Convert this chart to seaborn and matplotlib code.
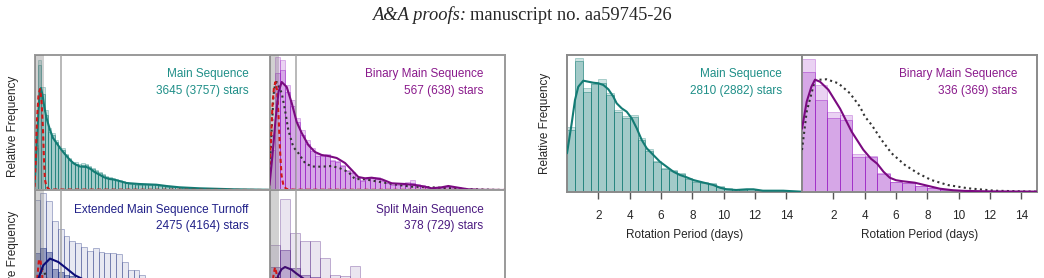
import numpy as np
import pandas as pd
import matplotlib
matplotlib.use("Agg")
import matplotlib.pyplot as plt
import seaborn as sns
from matplotlib.colors import to_rgba

sns.set_style("white")
plt.rcParams["font.family"] = ["Liberation Sans", "DejaVu Sans"]

# ---------------- left block (2x2, bottom row cut by the page) ----------------
# x in arbitrary period units, y in relative frequency (arbitrary scale)
ms_bin = 0.335
ms_all = [45, 130, 103, 80, 62, 57, 50, 44, 42, 36, 32, 28, 28, 26, 27, 26, 24, 22, 20, 18,
          16, 14, 13, 12, 11, 10, 9, 8, 7, 6.5, 6, 6, 6, 6, 5.5, 6, 5.5, 5, 4.5, 4,
          3.5, 3, 3, 2.5, 2.5, 2, 2, 1.5, 2, 1.5, 1.5, 1, 1.5, 1, 1, 1, 0.8, 0.8, 1, 1,
          0.5, 0.5, 0.5, 0.5, 0.5, 0.5, 0.5, 0.5, 0.5, 0.5]
ms_sel = [42, 125, 96, 75, 58, 55, 48, 42, 40, 35, 31, 27, 26, 24, 25, 25, 23, 21, 19, 17,
          15, 13, 12, 11, 10, 9, 8.5, 7.5, 6.5, 6, 5.5, 5.5, 5.5, 5.5, 5, 5.5, 5, 4.5, 4, 3.5,
          3, 2.8, 2.6, 2.2, 2.2, 1.8, 1.8, 1.3, 1.7, 1.3, 1.3, 0.9, 1.2, 0.8, 0.8, 0.8, 0.7, 0.6, 0.8, 0.8,
          0.4, 0.4, 0.4, 0.4, 0.4, 0.4, 0.3, 0.3, 0.3, 0.3]
ms_fit_x = [0, 0.2, 0.4, 0.55, 0.65, 0.8, 1.0, 1.2, 1.55, 1.85, 2.2, 2.7, 3.2, 3.55, 4.0, 4.55,
            5.2, 5.6, 6.0, 6.55, 7.0, 7.5, 7.9, 8.3, 9.2, 10.5, 12.2, 13.2, 14.5, 16.5, 20.0, 23.5]
ms_fit_y = [5, 40, 80, 98, 102, 95, 82, 72, 60, 52, 47, 40, 34, 30, 26, 23.5,
            23, 21, 18, 15, 12.5, 11, 10.5, 9.5, 7, 6, 5.3, 4, 2.7, 1.7, 0.7, 0.2]
ms_ref_x = [0, 0.1, 0.25, 0.4, 0.55, 0.7, 0.85, 0.95, 1.05, 1.2, 1.5, 23.5]
ms_ref_y = [3, 25, 70, 95, 101, 90, 60, 30, 10, 3, 0.5, 0]

bms_bin = 0.5
bms_all = [55, 133, 130, 105, 90, 72, 60, 50, 42, 36, 35, 36, 30, 29, 25, 20, 18, 13, 10, 11.7,
           12.7, 12.7, 10, 7.3, 6, 6, 6, 8.3, 10, 6, 5, 3.5, 2, 2.5, 3, 4, 3, 2, 1.5, 1,
           0.7, 0.5, 0.3, 0.3, 0.3, 0.3, 0.3]
bms_sel = [40, 117, 120, 98, 84, 68, 55, 46, 39, 34, 34, 35, 29, 28, 24, 19, 17, 12, 9, 11,
           12, 11.5, 9, 7, 5.5, 5.5, 5.5, 6.5, 7, 5, 4, 3, 1.5, 2, 2.5, 3.5, 2.5, 1.5, 1, 0.8,
           0.5, 0.3, 0.2, 0.2, 0.2, 0.2, 0.2]
bms_fit_x = [0, 0.3, 0.6, 0.9, 1.22, 1.72, 2.22, 2.72, 3.22, 3.88, 4.55, 5.22, 5.88, 6.72, 7.55,
             8.22, 8.88, 9.55, 10.22, 11.22, 12.22, 13.55, 14.55, 15.55, 16.22, 17.22, 17.88,
             18.88, 19.88, 21.22, 23.5]
bms_fit_y = [5, 35, 70, 98, 108, 103, 87, 68, 57, 45, 38, 35, 34, 32, 27,
             20, 13, 11.7, 12.3, 10.7, 6.7, 6, 5, 3.3, 1.7, 2.7, 4,
             2.3, 0.7, 0.2, 0]
bms_ref_x = [0, 0.15, 0.3, 0.45, 0.6, 0.75, 0.9, 1.05, 1.2, 1.4, 1.7, 2.5, 23.5]
bms_ref_y = [25, 50, 85, 103, 108, 100, 75, 40, 15, 4, 1, 0.3, 0]
bms_field_x = [0, 0.2, 0.4, 0.55, 0.72, 1.22, 1.55, 1.88, 2.38, 2.88, 3.55, 4.22, 5.22, 6.22,
               7.05, 7.88, 8.55, 9.55, 10.88, 11.88, 12.88, 14.22, 16.2, 18.2, 20.2, 23.5]
bms_field_y = [15, 55, 95, 105, 108, 97, 80, 60, 43, 37, 27, 23.5, 23.3, 24,
               21.7, 18, 11, 10.7, 8.3, 6.7, 5, 3.3, 2.7, 1.7, 0.7, 0]

emsto_bin = 0.583
emsto_all = [125, 132, 124, 104, 96, 89, 84, 82, 78, 74, 77, 73, 72, 72, 71, 63, 55, 55, 50, 44,
             40, 36, 33, 30, 27, 24, 21, 19, 17, 15, 13, 11, 10, 9, 8, 7, 6, 5, 4, 3, 2]
emsto_sel = [72, 77, 73, 56, 53, 50, 49, 47, 45, 43, 40, 37, 35, 32, 30, 27, 24, 22, 20, 18,
             16, 14, 12, 11, 10, 9, 8, 7, 6, 5, 4.5, 4, 3.5, 3, 2.5, 2, 1.5, 1.2, 1, 0.8, 0.5]
emsto_fit_x = [0, 0.2, 0.38, 0.88, 1.55, 2.38, 3.22, 4.05, 4.72, 5.5, 6.5, 8, 10, 12, 14, 16, 18, 20, 23.5]
emsto_fit_y = [10, 30, 46.7, 60, 66.7, 63.3, 56.7, 50, 46.7, 42, 38, 32, 25, 18, 12, 8, 5, 3, 1]
emsto_ref_x = [0, 0.15, 0.3, 0.45, 0.6, 0.75, 0.9, 1.05, 1.25, 1.6, 23.5]
emsto_ref_y = [4, 25, 50, 66, 65, 52, 32, 14, 4, 1, 0]
emsto_field_x = [0, 0.25, 0.5, 0.75, 1.0, 1.3, 1.7, 2.2, 3, 4, 6, 9, 13, 18, 23.5]
emsto_field_y = [5, 25, 48, 57, 53, 44, 36, 30, 24, 20, 16, 10, 5, 2, 0]

sms_bin = 1.0
sms_all = [80, 126, 92, 84, 84, 67, 50, 49, 59, 40, 35, 30, 25, 20, 18, 14, 12, 10, 8, 6, 5, 4, 3, 2]
sms_sel = [58, 75, 57, 50, 48, 40, 32, 30, 34, 25, 22, 18, 15, 12, 10, 8, 7, 6, 5, 4, 3, 2.5, 2, 1]
sms_fit_x = [0, 0.3, 0.6, 0.88, 1.2, 1.55, 2.2, 2.7, 3.4, 4.5, 6, 8, 10, 12, 14, 16, 18, 20, 23.5]
sms_fit_y = [5, 25, 40, 50, 56, 58.3, 55.7, 51.7, 46.7, 40, 32, 24, 17, 11, 7, 4, 2, 1, 0.3]
sms_ref_x = [0, 0.2, 0.4, 0.55, 0.7, 0.85, 1.0, 1.2, 1.5, 23.5]
sms_ref_y = [5, 30, 50, 58, 52, 35, 18, 5, 1, 0]
sms_field_x = [0, 0.25, 0.5, 0.75, 1.0, 1.3, 1.7, 2.2, 3, 4, 6, 9, 13, 18, 23.5]
sms_field_y = [5, 22, 42, 50, 46, 38, 31, 26, 21, 18, 14, 9, 5, 2, 0]

# ---------------- right block: rotation period (days) ----------------
rot_ticks = [2, 4, 6, 8, 10, 12, 14]
rms_bin = 0.5
rms_all = [65, 133.4, 103.4, 110, 112.4, 99, 81.7, 76, 76.7, 53.4, 43, 31, 24, 22, 19, 14, 11, 10,
           8.5, 6, 3.5, 3, 2.5, 3, 2, 1.5, 1, 1.5, 1, 0.5]
rms_sel = [62, 131, 99.4, 107.4, 108.4, 96.7, 80, 74, 75, 51.7, 41, 30, 22.4, 21, 18, 13, 10, 9,
           8, 5, 3, 2.5, 2, 2.5, 1.5, 1, 0.8, 1, 0.8, 0.3]
rms_fit_x = [0, 0.3, 0.51, 0.72, 1.04, 1.36, 1.68, 2.0, 2.32, 2.64, 2.96, 3.17, 3.49, 3.81, 4.13,
             4.45, 4.77, 5.09, 5.51, 5.93, 6.36, 6.79, 7.21, 7.64, 8.06, 8.49, 8.9, 9.34, 9.76,
             10.19, 10.8, 11.47, 11.9, 12.5, 13.8, 15.0]
rms_fit_y = [38.4, 68.4, 91.7, 105, 111, 110, 109, 108.4, 106.7, 102.4, 95, 88.4, 83.4, 80, 73.4,
             63.4, 51.7, 43.4, 36.7, 30, 25, 20, 16.7, 14.4, 11.7, 10, 8.4, 6.7, 4,
             2.4, 1.7, 2.4, 2.4, 1, 1, 0]

rbms_bin = 0.8
rbms_all = [132.4, 106.7, 80, 77, 37.7, 35.7, 19, 10, 9, 6, 4, 2.3, 1.7, 1, 0.8, 0.5, 0.3, 0.3, 0.3]
rbms_sel = [120, 92, 73.4, 71.7, 34.5, 35, 18, 9.5, 8.5, 5.5, 3.5, 2, 1.5, 0.8, 0.6, 0.4, 0.2, 0.2, 0.2]
rbms_fit_x = [0, 0.3, 0.6, 0.83, 1.15, 1.68, 2.43, 3.17, 3.91, 4.4, 4.8, 5.2, 5.6, 6.0, 6.4, 7.2,
              7.6, 8.0, 8.8, 9.6, 10.4, 12.0, 15.0]
rbms_fit_y = [63, 90, 105, 112, 110, 102, 83, 60, 42, 33, 28, 20, 14, 11.5, 10.5, 9,
              7.5, 6, 3, 1.5, 0.8, 0.3, 0.1]
rbms_field_x = [0, 0.3, 0.83, 1.57, 2.32, 3.06, 3.7, 4.02, 4.45, 5.08, 5.72, 6.57, 7.4, 8.25,
                9.3, 10.6, 12.3, 15.0]
rbms_field_y = [41.7, 80, 111.7, 112.4, 108.4, 98.4, 85, 75, 66.7, 51.7, 38.4, 26.7, 18.4, 11.7,
                6.7, 3.4, 1, 0]

TEAL, TEAL_TXT = "#137b74", "#1f8f88"
MAG, MAG_LINE, MAG_TXT = "#9a1fc4", "#7a0a80", "#8a1a8c"
NAVY, NAVY_LINE, NAVY_TXT = "#203080", "#0c0c78", "#202088"
IND, IND_LINE, IND_TXT = "#5a2a8a", "#3e0a70", "#4b1a80"
RED = "#d01818"
DOT = (0, (1, 1.6))
DASH = (0, (2, 1.5))

W, H = 1044, 278
fig = plt.figure(figsize=(W / 100, H / 100), dpi=100)


def add_ax(left, top, width, height):
    return fig.add_axes([left / W, 1 - (top + height) / H, width / W, height / H])


def bars(ax, heights, width, color, alpha, ealpha):
    n = len(heights)
    edges = [i * width for i in range(n + 1)]
    df = pd.DataFrame({"x": [(i + 0.5) * width for i in range(n)], "w": heights})
    sns.histplot(data=df, x="x", weights="w", bins=edges, ax=ax, color=color, alpha=alpha,
                 edgecolor=to_rgba(color, ealpha), linewidth=0.7)


def curve(ax, xs, ys, color, ls="-", lw=1.5):
    sns.lineplot(x=xs, y=ys, ax=ax, color=color, linestyle=ls, linewidth=lw,
                 estimator=None, sort=False, zorder=5)


def style(ax, ymax, xmax, scolor="#9a9a9a"):
    ax.set_xlim(0, xmax)
    ax.set_ylim(0, ymax)
    ax.set_xlabel("")
    ax.set_ylabel("")
    ax.set_yticks([])
    for s in ax.spines.values():
        s.set_color(scolor)
        s.set_linewidth(1.4)


def label(ax, t1, t2, color, dy1, dy2, h, w=235, dx=21):
    ax.text(1 - dx / w, 1 - dy1 / h, t1, transform=ax.transAxes, ha="right", va="center",
            color=color, fontsize=8.5, zorder=10)
    ax.text(1 - dx / w, 1 - dy2 / h, t2, transform=ax.transAxes, ha="right", va="center",
            color=color, fontsize=8.5, zorder=10)


def marks(ax):
    ax.axvspan(0, 0.97, color="gray", alpha=0.36, lw=0, zorder=4)
    ax.axvline(2.67, color="#a5a5a5", lw=1.1, zorder=4)


PH = 135.3
XL = 23.5
panels = [
    (34.5, 54.7, ms_all, ms_sel, ms_bin, TEAL, 0.2, 0.24, 0.3, 0.45,
     [(ms_fit_x, ms_fit_y, TEAL, "-"), (ms_ref_x, ms_ref_y, RED, DASH)],
     "Main Sequence", "3645 (3757) stars", TEAL_TXT),
    (269.5, 54.7, bms_all, bms_sel, bms_bin, MAG, 0.2, 0.24, 0.3, 0.45,
     [(bms_field_x, bms_field_y, "#333333", DOT), (bms_ref_x, bms_ref_y, RED, DASH),
      (bms_fit_x, bms_fit_y, MAG_LINE, "-")],
     "Binary Main Sequence", "567 (638) stars", MAG_TXT),
    (34.5, 190, emsto_all, emsto_sel, emsto_bin, NAVY, 0.1, 0.42, 0.35, 0.5,
     [(emsto_field_x, emsto_field_y, "#333333", DOT), (emsto_ref_x, emsto_ref_y, RED, DASH),
      (emsto_fit_x, emsto_fit_y, NAVY_LINE, "-")],
     "Extended Main Sequence Turnoff", "2475 (4164) stars", NAVY_TXT),
    (269.5, 190, sms_all, sms_sel, sms_bin, IND, 0.12, 0.32, 0.35, 0.5,
     [(sms_field_x, sms_field_y, "#333333", DOT), (sms_ref_x, sms_ref_y, RED, DASH),
      (sms_fit_x, sms_fit_y, IND_LINE, "-")],
     "Split Main Sequence", "378 (729) stars", IND_TXT),
]

left_axes = []
for left, top, h_all, h_sel, bw, col, a1, a2, e1, e2, lines, t1, t2, tcol in panels:
    ax = add_ax(left, top, 235, PH)
    bars(ax, h_all, bw, col, a1, e1)
    bars(ax, h_sel, bw, col, a2, e2)
    marks(ax)
    for xs, ys, c, ls in lines:
        curve(ax, xs, ys, c, ls)
    style(ax, PH, XL)
    ax.set_xticks([])
    label(ax, t1, t2, tcol, 19.5, 36.5, PH)
    left_axes.append(ax)

for ax in (left_axes[0], left_axes[2]):
    ax.set_ylabel("Relative Frequency", fontsize=8.5)
    ax.yaxis.set_label_coords(-0.068, 0.47)

# right block
RH = 136.7
ax_r1 = add_ax(567, 55, 235, RH)
bars(ax_r1, rms_all, rms_bin, TEAL, 0.2, 0.3)
bars(ax_r1, rms_sel, rms_bin, TEAL, 0.24, 0.45)
curve(ax_r1, rms_fit_x, rms_fit_y, TEAL)
style(ax_r1, RH, 15, "#8a8a8a")
label(ax_r1, "Main Sequence", "2810 (2882) stars", TEAL_TXT, 19.3, 36, RH, dx=20)
ax_r1.set_ylabel("Relative Frequency", fontsize=8.5)
ax_r1.yaxis.set_label_coords(-0.068, 0.5)

ax_r2 = add_ax(802, 55, 235, RH)
bars(ax_r2, rbms_all, rbms_bin, MAG, 0.2, 0.3)
bars(ax_r2, rbms_sel, rbms_bin, MAG, 0.24, 0.45)
curve(ax_r2, rbms_field_x, rbms_field_y, "#333333", DOT)
curve(ax_r2, rbms_fit_x, rbms_fit_y, MAG_LINE)
style(ax_r2, RH, 15, "#8a8a8a")
label(ax_r2, "Binary Main Sequence", "336 (369) stars", MAG_TXT, 19.3, 36, RH, dx=20)

for ax in (ax_r1, ax_r2):
    ax.set_xticks(rot_ticks)
    ax.set_xticklabels([str(t) for t in rot_ticks])
    ax.tick_params(axis="x", direction="out", length=5, width=1, color="#555555",
                   labelsize=8.5, pad=8.5, bottom=True)
    ax.set_xlabel("Rotation Period (days)", fontsize=8.5, labelpad=5)

# page header
fig.text(466 / W, 1 - 15.5 / H, "A&A proofs:", ha="right", va="center", fontsize=13.3,
         family="Liberation Serif", style="italic")
fig.text(470 / W, 1 - 15.5 / H, "manuscript no. aa59745-26", ha="left", va="center",
         fontsize=13.3, family="Liberation Serif")

fig.savefig("out.png", dpi=100, facecolor="white")
